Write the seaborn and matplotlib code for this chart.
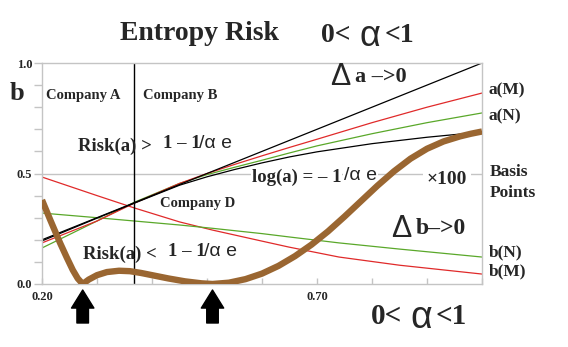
import numpy as np
import pandas as pd
import matplotlib
matplotlib.use("Agg")
import matplotlib.pyplot as plt
import seaborn as sns

# ---------------- data ----------------
x_up = [0.2, 0.3, 0.368, 0.45, 0.5, 0.55, 0.6, 0.65, 0.7, 0.8, 0.9, 1.0]
delta_a = [0.2, 0.3, 0.368, 0.45, 0.5, 0.55, 0.6, 0.65, 0.7, 0.8, 0.9, 1.0]
a_M = [0.186, 0.285, 0.366, 0.455, 0.5, 0.541, 0.58, 0.618, 0.655, 0.73, 0.80, 0.864]
a_N = [0.163, 0.285, 0.37, 0.455, 0.495, 0.528, 0.56, 0.593, 0.625, 0.68, 0.73, 0.774]
log_a = [0.195, 0.298, 0.366, 0.447, 0.485, 0.518, 0.548, 0.575, 0.598, 0.635, 0.664, 0.688]

x_down = [0.2, 0.3, 0.368, 0.45, 0.51, 0.6, 0.649, 0.74, 0.85, 1.0]
b_M = [0.484, 0.40, 0.344, 0.281, 0.244, 0.194, 0.167, 0.122, 0.085, 0.045]
b_N = [0.321, 0.300, 0.285, 0.267, 0.252, 0.228, 0.213, 0.186, 0.158, 0.122]

x_risk = [0.20, 0.215, 0.233, 0.245, 0.256, 0.265, 0.274, 0.285, 0.30, 0.318,
          0.34, 0.36, 0.38, 0.40, 0.43, 0.46, 0.49, 0.51, 0.54, 0.57, 0.60,
          0.63, 0.66, 0.69, 0.72, 0.75, 0.78, 0.81, 0.84, 0.87, 0.90, 0.93,
          0.96, 0.98, 1.0]
risk = [0.38, 0.29, 0.185, 0.12, 0.063, 0.025, 0.0, 0.02, 0.04, 0.054,
        0.06, 0.058, 0.05, 0.04, 0.025, 0.012, 0.003, 0.0, 0.006, 0.022, 0.047,
        0.082, 0.126, 0.178, 0.238, 0.305, 0.375, 0.445, 0.51, 0.567, 0.612, 0.645,
        0.668, 0.68, 0.69]

boundary_x = 0.368          # 1/e
arrow_x = [0.274, 0.51]

y_ticks = [0.0, 0.1, 0.2, 0.3, 0.4, 0.5, 0.6, 0.7, 0.8, 0.9, 1.0]
y_ticklabels = ["0.0", "", "", "", "", "0.5", "", "", "", "", "1.0"]
x_ticks = [0.2, 0.3, 0.4, 0.5, 0.6, 0.7, 0.8, 0.9, 1.0]
x_ticklabels = ["0.20", "", "", "", "", "0.70", "", "", ""]

# ---------------- style ----------------
sns.set_style("white")
plt.rcParams["font.family"] = ["Liberation Serif", "DejaVu Serif"]

W, H = 568, 347
fig = plt.figure(figsize=(W / 100, H / 100), dpi=100)
ax = fig.add_axes([42 / W, 1 - 284 / H, 440 / W, 221 / H])

RED = "#e02a2a"
GREEN = "#5aa82a"
BROWN = "#9a6631"
GRAY = "#c4c4c4"

ax.axhline(0.5, color=GRAY, lw=1.0, zorder=0.5)

df_up = pd.DataFrame({"x": x_up, "da": delta_a, "aM": a_M, "aN": a_N, "log": log_a})
df_dn = pd.DataFrame({"x": x_down, "bM": b_M, "bN": b_N})
df_r = pd.DataFrame({"x": x_risk, "risk": risk})

sns.lineplot(data=df_dn, x="x", y="bM", ax=ax, color=RED, lw=0.9, zorder=2)
sns.lineplot(data=df_dn, x="x", y="bN", ax=ax, color=GREEN, lw=0.9, zorder=2)
sns.lineplot(data=df_up, x="x", y="aN", ax=ax, color=GREEN, lw=0.9, zorder=2)
sns.lineplot(data=df_up, x="x", y="aM", ax=ax, color=RED, lw=0.9, zorder=2)
sns.lineplot(data=df_up, x="x", y="log", ax=ax, color="black", lw=0.9, zorder=2)
sns.lineplot(data=df_up, x="x", y="da", ax=ax, color="black", lw=0.9, zorder=2)
ax.axvline(boundary_x, color="black", lw=1.0, zorder=2)
sns.lineplot(data=df_r, x="x", y="risk", ax=ax, color=BROWN, lw=4.6, zorder=5,
             solid_capstyle="butt", solid_joinstyle="round")

ax.set_xlim(0.2, 1.0)
ax.set_ylim(0.0, 1.0)
ax.set_xlabel("")
ax.set_ylabel("")
ax.set_yticks(y_ticks)
ax.set_yticklabels(y_ticklabels)
ax.set_xticks(x_ticks)
ax.set_xticklabels(x_ticklabels)
ax.tick_params(axis="y", direction="out", length=6, width=1, color=GRAY, pad=1,
               labelsize=9, left=True)
ax.tick_params(axis="x", direction="in", length=4, width=1, color=GRAY, pad=5,
               labelsize=9, bottom=True)
for lab in ax.get_xticklabels() + ax.get_yticklabels():
    lab.set_fontweight("bold")
for s in ax.spines.values():
    s.set_color(GRAY)
    s.set_linewidth(1.0)


def P(px, py):
    """pixel position of an annotation -> data coordinates"""
    return 0.2 + (px - 42) / 552, (284 - py) / 221


SERIF = ["Liberation Serif", "DejaVu Serif"]
SANS = ["Liberation Sans", "DejaVu Sans"]


def T(px, py, s, size, bold=True, family=SERIF, ha="left", bbox=None, z=3):
    x, y = P(px, py)
    ax.text(x, y, s, fontsize=size, fontweight="bold" if bold else "normal",
            family=family, ha=ha, va="center", clip_on=False, zorder=z, bbox=bbox)


white = dict(facecolor="white", edgecolor="none", pad=0.5)

# title
T(120, 34, "Entropy Risk", 20)
T(322, 35, "0<", 20)
T(361, 36, "α", 26, bold=False, family=SANS)
T(386, 35, "<1", 20)

# y label
T(9, 93, "b", 19)

# region labels
T(46, 95, "Company A", 10.5)
T(143, 95, "Company B", 10.5)
T(160, 203, "Company D", 10.5)

# inequalities
T(78, 146, "Risk(a) >", 13.5)
T(163, 144, "1 – 1", 13.5)
T(200, 144, "/α e", 14, bold=False, family=SANS)
T(83, 254, "Risk(a) <", 13.5)
T(168, 252, "1 – 1", 13.5)
T(205, 252, "/α e", 14, bold=False, family=SANS)
T(253, 177, "log(a) = – 1", 13.5, bbox=white)
T(345, 175, "/α e", 14, bold=False, family=SANS, bbox=white)
T(428, 179, "×100", 14, bbox=dict(facecolor="white", edgecolor="none", pad=3))

# delta labels
T(331, 77, "Δ", 22, bold=False, family=SANS)
T(356, 77, "a –>0", 16)
T(392, 229, "Δ", 22, bold=False, family=SANS)
T(417, 229, "b–>0", 17)

# right labels
T(490, 90, "a(M)", 12.5)
T(490, 116, "a(N)", 12.5)
T(491, 172, "Basis", 12.5)
T(491, 193, "Points", 12.5)
T(490, 252, "b(N)", 12.5)
T(490, 271, "b(M)", 12.5)

# bottom axis title
T(372, 317, "0<", 21)
T(412, 318, "α", 27, bold=False, family=SANS)
T(437, 317, "<1", 21)

# arrows under the two minima
for ax_x in arrow_x:
    ax.annotate("", xy=(ax_x, P(0, 290)[1]), xytext=(ax_x, P(0, 323)[1]),
                arrowprops=dict(arrowstyle="simple,head_length=0.5,head_width=0.62,tail_width=0.32",
                                fc="black", ec="black", mutation_scale=26,
                                shrinkA=0, shrinkB=0),
                annotation_clip=False)

fig.savefig("out.png", dpi=100)
